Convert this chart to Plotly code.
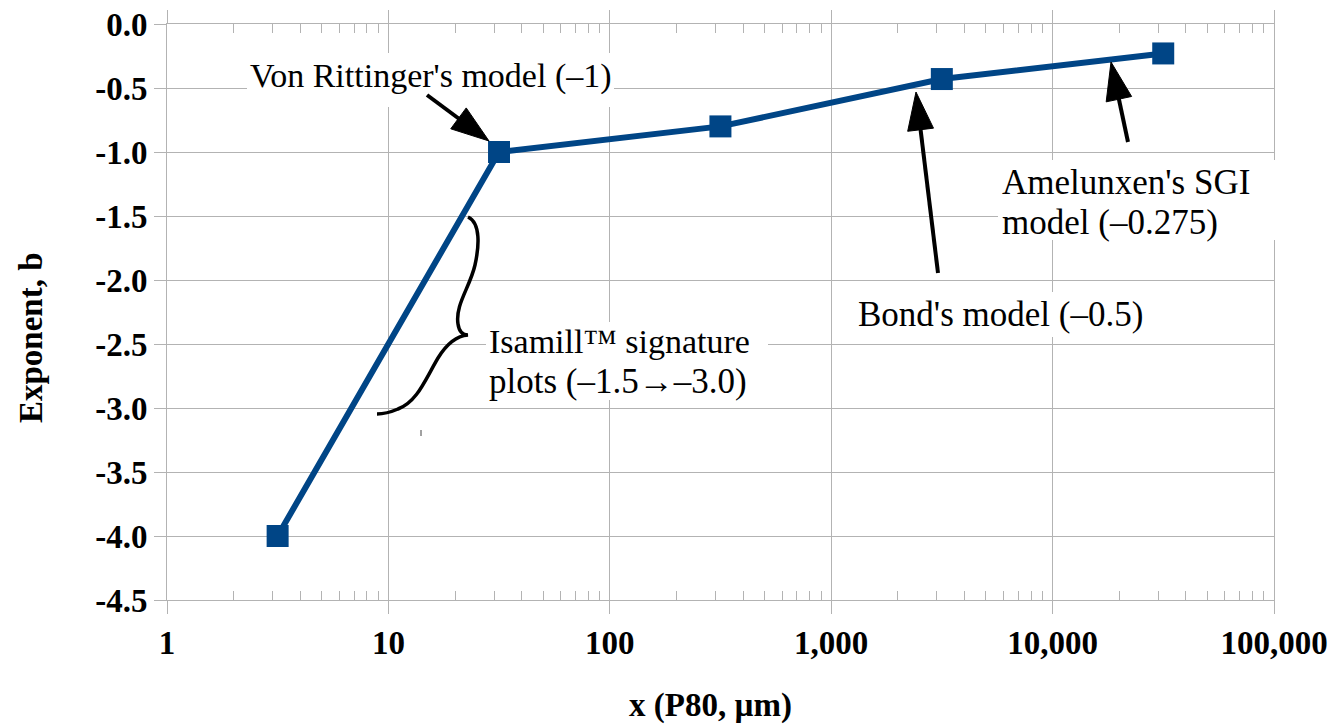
import math
import plotly.graph_objects as go

# ---------------- data ----------------
x_p80 = [3.16, 31.6, 316, 3160, 31600]
exponent_b = [-4.0, -1.0, -0.80, -0.43, -0.23]

x_tick_vals = [1, 10, 100, 1000, 10000, 100000]
x_tick_text = ["1", "10", "100", "1,000", "10,000", "100,000"]
y_tick_vals = [0.0, -0.5, -1.0, -1.5, -2.0, -2.5, -3.0, -3.5, -4.0, -4.5]
y_tick_text = ["0.0", "-0.5", "-1.0", "-1.5", "-2.0", "-2.5", "-3.0", "-3.5", "-4.0", "-4.5"]
minor_digits = [2, 3, 4, 5, 6, 7, 8, 9]
minor_ticks = [d * 10 ** k for k in range(5) for d in minor_digits]

# ---------------- layout geometry ----------------
W_FIG, H_FIG = 1336, 727
L, T, R, B = 167, 24, 62, 127
PW, PH = W_FIG - L - R, H_FIG - T - B

def px(x):
    return (x - L) / PW

def py(y):
    return (T + PH - y) / PH

SERIF = "Liberation Serif"
BLUE = "#004586"
GRID = "#b3b3b3"

fig = go.Figure()
fig.add_trace(go.Scatter(
    x=x_p80, y=exponent_b, mode="lines+markers",
    line=dict(color=BLUE, width=6),
    marker=dict(symbol="square", size=22, color=BLUE),
    showlegend=False, hoverinfo="skip",
))

shapes = []
# white label boxes
for (x0, y0, x1, y1) in [(247, 53, 614, 107), (486, 322, 768, 400),
                         (998, 160, 1280, 240), (853, 292, 1148, 337)]:
    shapes.append(dict(type="rect", xref="paper", yref="paper",
                       x0=px(x0), x1=px(x1), y0=py(y1), y1=py(y0),
                       fillcolor="white", line=dict(width=0), layer="above"))

# arrows (tail -> tip), drawn as line + filled triangular head
def arrow(tail, tip, head_len=38, head_w=26, lw=4):
    tx, ty = tail
    hx, hy = tip
    dx, dy = hx - tx, hy - ty
    n = math.hypot(dx, dy)
    ux, uy = dx / n, dy / n
    bx, by = hx - ux * head_len, hy - uy * head_len
    nx, ny = -uy, ux
    c1 = (bx + nx * head_w / 2, by + ny * head_w / 2)
    c2 = (bx - nx * head_w / 2, by - ny * head_w / 2)
    ex, ey = bx + ux * 4, by + uy * 4
    out = [dict(type="line", xref="paper", yref="paper",
                x0=px(tx), y0=py(ty), x1=px(ex), y1=py(ey),
                line=dict(color="black", width=lw), layer="above")]
    path = "M {:.5f} {:.5f} L {:.5f} {:.5f} L {:.5f} {:.5f} Z".format(
        px(hx), py(hy), px(c1[0]), py(c1[1]), px(c2[0]), py(c2[1]))
    out.append(dict(type="path", xref="paper", yref="paper", path=path,
                    fillcolor="black", line=dict(color="black", width=1),
                    layer="above"))
    return out

shapes += arrow((427, 95), (489, 141))
shapes += arrow((938, 273), (916, 92))
shapes += arrow((1128, 142), (1111, 62))

# curly brace
brace_pts = [
    ("M", [(468, 217)]),
    ("C", [(481, 223), (479, 247), (475, 265)]),
    ("C", [(470, 287), (455, 305), (458, 324)]),
    ("C", [(459, 331), (462, 335), (468, 335)]),
    ("C", [(455, 336), (446, 345), (438, 358)]),
    ("C", [(425, 380), (417, 402), (398, 409)]),
    ("C", [(391, 412), (385, 414), (377, 414)]),
]
path = ""
for cmd, pts in brace_pts:
    path += cmd + " " + " ".join("{:.5f},{:.5f}".format(px(a), py(b)) for a, b in pts) + " "
shapes.append(dict(type="path", xref="paper", yref="paper", path=path.strip(),
                   line=dict(color="black", width=3.5), layer="above"))
# small stray tick
shapes.append(dict(type="line", xref="paper", yref="paper",
                   x0=px(421), x1=px(421), y0=py(430), y1=py(436),
                   line=dict(color="#444444", width=1), layer="above"))

annotations = []
for text, xl, yc, fs in [
    ("Von Rittinger's model (–1)", 248, 76, 34),
    ("Isamill™ signature", 487, 342, 34),
    ("plots (–1.5→–3.0)", 487, 381, 35),
    ("Amelunxen's SGI", 1000, 183, 35),
    ("model (–0.275)", 1000, 222, 35),
    ("Bond's model (–0.5)", 856, 315, 35),
]:
    annotations.append(dict(text=text, xref="paper", yref="paper",
                            x=px(xl), y=py(yc), xanchor="left", yanchor="middle",
                            showarrow=False,
                            font=dict(family=SERIF, size=fs, color="black")))

title_font = dict(family=SERIF, size=33, color="black", weight="bold")
annotations.append(dict(text="Exponent, b", xref="paper", yref="paper",
                        x=px(31), y=py(338), xanchor="center", yanchor="middle",
                        textangle=-90, showarrow=False, font=title_font))
annotations.append(dict(text="x (P80, µm)", xref="paper", yref="paper",
                        x=px(710), y=py(705), xanchor="center", yanchor="middle",
                        showarrow=False, font=title_font))

tick_font = dict(family=SERIF, size=33, color="black", weight="bold")

fig.update_layout(
    width=W_FIG, height=H_FIG,
    margin=dict(l=L, r=R, t=T, b=B, autoexpand=False),
    paper_bgcolor="white", plot_bgcolor="white",
    shapes=shapes, annotations=annotations,
    xaxis=dict(
        type="log", range=[0, 5],
        tickmode="array", tickvals=x_tick_vals, ticktext=x_tick_text,
        tickfont=tick_font,
        showgrid=True, gridcolor=GRID, gridwidth=1,
        showline=True, linecolor=GRID, linewidth=1, mirror="ticks",
        ticks="outside", ticklen=13, tickcolor=GRID, tickwidth=1,
        minor=dict(tickmode="array", tickvals=minor_ticks, ticks="inside",
                   ticklen=9, tickcolor=GRID, tickwidth=1, showgrid=False),
        zeroline=False,
    ),
    yaxis=dict(
        range=[-4.5, 0],
        tickmode="array", tickvals=y_tick_vals, ticktext=y_tick_text,
        tickfont=tick_font,
        showgrid=True, gridcolor=GRID, gridwidth=1,
        showline=True, linecolor=GRID, linewidth=1, mirror=True,
        ticks="outside", ticklen=12, tickcolor=GRID, tickwidth=1,
        zeroline=False,
    ),
)

fig.write_html("out.html")
